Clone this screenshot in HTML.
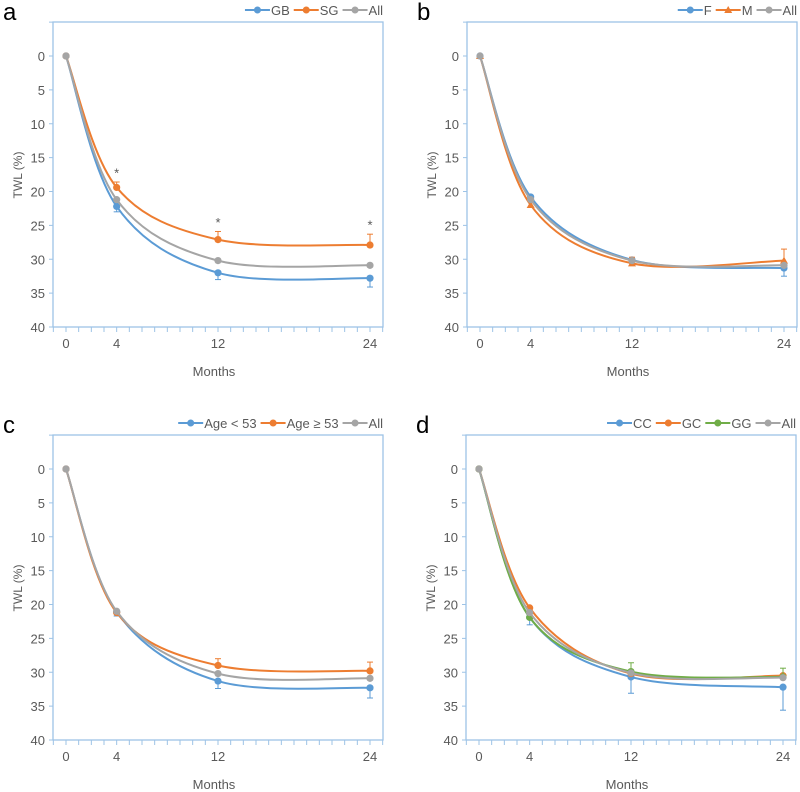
<!DOCTYPE html>
<html><head><meta charset="utf-8"><style>
body{margin:0;background:#fff;font-family:"Liberation Sans",sans-serif}
svg{display:block}
</style></head><body>
<svg id="chart" width="800" height="792" viewBox="0 0 800 792"></svg>
<script>
const months = [0, 4, 12, 24];
const yTicks = [0, 5, 10, 15, 20, 25, 30, 35, 40];
const xTickLabels = ["0", "4", "12", "24"];
// panel a
const aNames = ["GB", "SG", "All"];
const aGB = [0, 22.2, 32.0, 32.8];
const aSG = [0, 19.4, 27.1, 27.9];
const aAll = [0, 21.2, 30.2, 30.9];
const aGBErr = [0, 0.8, 1.0, 1.3];
const aSGErr = [0, -0.8, -1.2, -1.6];
// panel b
const bNames = ["F", "M", "All"];
const bF = [0, 20.8, 30.1, 31.3];
const bM = [0, 22.0, 30.6, 30.2];
const bAll = [0, 21.2, 30.2, 30.9];
const bFErr = [0, 0.4, 0.5, 1.2];
const bMErr = [0, 0, -0.9, -1.7];
// panel c
const cNames = ["Age < 53", "Age \u2265 53", "All"];
const cYoung = [0, 21.1, 31.3, 32.3];
const cOld = [0, 21.2, 29.0, 29.8];
const cAll = [0, 21.0, 30.2, 30.9];
const cYoungErr = [0, 0.6, 1.1, 1.5];
const cOldErr = [0, -0.3, -1.0, -1.3];
// panel d
const dNames = ["CC", "GC", "GG", "All"];
const dCC = [0, 21.9, 30.7, 32.2];
const dGC = [0, 20.5, 30.2, 30.5];
const dGG = [0, 21.9, 29.9, 30.7];
const dAll = [0, 21.2, 30.1, 30.8];
const dCCErr = [0, 1.1, 2.4, 3.4];
const dGGErr = [0, 0, -1.3, -1.3];

const BLUE="#5B9BD5", ORANGE="#ED7D31", GRAY="#A5A5A5", GREEN="#70AD47", AXIS="#9DC3E6", TXT="#595959";
const svg=document.getElementById('chart');
const NS="http://www.w3.org/2000/svg";
function mk(tag,attrs,parent){const e=document.createElementNS(NS,tag);for(const k in attrs)e.setAttribute(k,attrs[k]);(parent||svg).appendChild(e);return e;}

function panel(ox,oy,letter,series,stars){
  const g=mk('g',{transform:`translate(${ox},${oy})`});
  
  
  const xs=m=>66+m*(370-66)/24;
  const ys=v=>56+v*(327-56)/40;
  const fr=mk('rect',{x:53,y:22,width:330,height:305,fill:'none',stroke:AXIS,'stroke-width':1.3},g);
  
  
  yTicks.forEach(t=>{
    mk('line',{x1:49,x2:53,y1:ys(t),y2:ys(t),stroke:AXIS,'stroke-width':1},g);
    const tx=mk('text',{x:45,y:ys(t)+5,'text-anchor':'end','font-size':13,fill:TXT},g);
    tx.textContent=t;
    
    
  });
  mk('line',{x1:49,x2:53,y1:ys(-5),y2:ys(-5),stroke:AXIS},g);
  for(let m=-1;m<=25;m++){const x=xs(m);if(x<53||x>383)continue;mk('line',{x1:x,x2:x,y1:327,y2:332,stroke:AXIS},g);}
  months.forEach((m,i)=>{
    const tx=mk('text',{x:xs(m),y:348,'text-anchor':'middle','font-size':13,fill:TXT},g);
    tx.textContent=xTickLabels[i];
    
    
  });
  const xt=mk('text',{x:214,y:376,'text-anchor':'middle','font-size':13,fill:TXT},g);
  xt.textContent='Months';
  
  
  const yt=mk('text',{x:0,y:0,transform:'translate(22,175) rotate(-90)','text-anchor':'middle','font-size':12,fill:TXT},g);
  yt.textContent='TWL (%)';
  
  
  const lt=mk('text',{x:3,y:20,'font-size':24,fill:'#000'},g);
  lt.textContent=letter;
  
  
  series.forEach(s=>{
    const P=s.v.map((v,i)=>[xs(months[i]),ys(v)]);
    let d=`M${P[0][0]},${P[0][1]}`;
    for(let i=0;i<P.length-1;i++){
      const p0=P[Math.max(0,i-1)],p1=P[i],p2=P[i+1],p3=P[Math.min(P.length-1,i+2)];
      const c1=[p1[0]+(p2[0]-p0[0])/6,p1[1]+(p2[1]-p0[1])/6];
      const c2=[p2[0]-(p3[0]-p1[0])/6,p2[1]-(p3[1]-p1[1])/6];
      d+=` C${c1[0]},${c1[1]} ${c2[0]},${c2[1]} ${p2[0]},${p2[1]}`;
    }
    const path=mk('path',{d,fill:'none',stroke:s.c,'stroke-width':2},g);
    
    
    if(s.e){s.e.forEach((e,i)=>{if(!e)return;const x=xs(months[i]),y1=ys(s.v[i]),y2=ys(s.v[i]+e);
      mk('line',{x1:x,x2:x,y1,y2,stroke:s.c,'stroke-width':1},g);
      mk('line',{x1:x-3,x2:x+3,y1:y2,y2:y2,stroke:s.c,'stroke-width':1},g);});}
    P.forEach(p=>{
      let m;
      if(s.tri) m=mk('polygon',{points:`${p[0]},${p[1]-4} ${p[0]-4},${p[1]+3} ${p[0]+4},${p[1]+3}`,fill:s.c},g);
      else m=mk('circle',{cx:p[0],cy:p[1],r:3.6,fill:s.c},g);
      
      
    });
  });
  if(stars){stars.forEach(([m,v])=>{const st=mk('text',{x:xs(m),y:ys(v)-4,'text-anchor':'middle','font-size':13,fill:TXT},g);st.textContent='*';
    
    });}
  // legend: build left-to-right then shift to right-align
  const lg=mk('g',{},g);
  
  
  let x=0;
  series.forEach(s=>{
    const it=mk('g',{},lg);
    
    
    mk('line',{x1:x,x2:x+25,y1:10,y2:10,stroke:s.c,'stroke-width':2},it);
    if(s.tri) mk('polygon',{points:`${x+12.5},6 ${x+8.5},13 ${x+16.5},13`,fill:s.c},it);
    else mk('circle',{cx:x+12.5,cy:10,r:3.5,fill:s.c},it);
    const t=mk('text',{x:x+26,y:15,'font-size':13,fill:TXT},it);t.textContent=s.n;
    x+=26+t.getComputedTextLength()+4;
  });
  lg.setAttribute('transform',`translate(${387-x},0)`);
}
panel(0,0,'a',[{n:aNames[0],v:aGB,c:BLUE,e:aGBErr},{n:aNames[1],v:aSG,c:ORANGE,e:aSGErr},{n:aNames[2],v:aAll,c:GRAY}],[[4,aSG[1]-0.9],[12,aSG[2]-1.3],[24,aSG[3]-1.7]]);
panel(414,0,'b',[{n:bNames[0],v:bF,c:BLUE,e:bFErr},{n:bNames[1],v:bM,c:ORANGE,e:bMErr,tri:true},{n:bNames[2],v:bAll,c:GRAY}]);
panel(0,413,'c',[{n:cNames[0],v:cYoung,c:BLUE,e:cYoungErr},{n:cNames[1],v:cOld,c:ORANGE,e:cOldErr},{n:cNames[2],v:cAll,c:GRAY}]);
panel(413,413,'d',[{n:dNames[0],v:dCC,c:BLUE,e:dCCErr},{n:dNames[1],v:dGC,c:ORANGE},{n:dNames[2],v:dGG,c:GREEN,e:dGGErr},{n:dNames[3],v:dAll,c:GRAY}]);
</script>
</body></html>
